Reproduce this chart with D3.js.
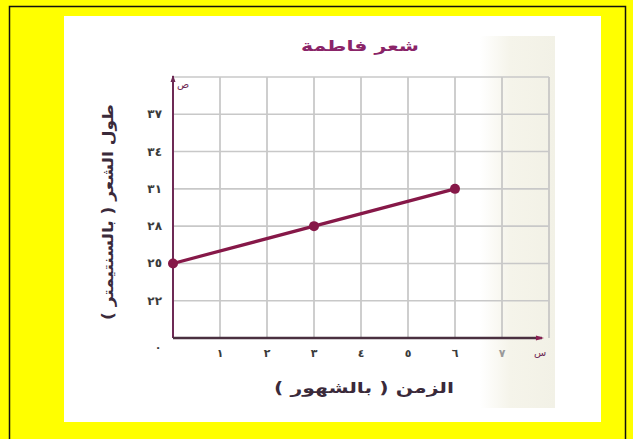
<!DOCTYPE html>
<html><head><meta charset="utf-8">
<script src="https://cdn.jsdelivr.net/npm/d3@7"></script>
<style>html,body{margin:0;padding:0;background:#fff;}svg{display:block;}</style>
</head><body>
<svg id="c" width="633" height="439"></svg>
<script>
const months = [0, 3, 6];
const hairLength = [25, 28, 31];
const xTickValues = [0, 1, 2, 3, 4, 5, 6, 7];
const xTickLabels = ["٠", "١", "٢", "٣", "٤", "٥", "٦", "٧"];
const yTickValues = [22, 25, 28, 31, 34, 37];
const yTickLabels = ["٢٢", "٢٥", "٢٨", "٣١", "٣٤", "٣٧"];
const xGrid = [1, 2, 3, 4, 5, 6, 7, 8];
const yGrid = [22, 25, 28, 31, 34, 37, 40];
const title = "شعر فاطمة";
const xLabel = "الزمن ( بالشهور )";
const yLabel = "طول الشعر ( بالسنتيمتر )";

const svg = d3.select("#c");
const font = "DejaVu Sans, sans-serif";

// frame
svg.append("rect").attr("x", 0).attr("y", 0).attr("width", 633).attr("height", 439).attr("fill", "#ffff00");
svg.append("path").attr("d", "M9.5,439 V6.5 H625.5 V439").attr("fill", "none").attr("stroke", "#111").attr("stroke-width", 1.5);
svg.append("rect").attr("x", 64).attr("y", 16).attr("width", 537).attr("height", 406).attr("fill", "#ffffff");

// faint paper tint on the right
const grad = svg.append("defs").append("linearGradient").attr("id", "g").attr("x1", 0).attr("x2", 1);
grad.append("stop").attr("offset", 0).attr("stop-color", "#f5f4ea").attr("stop-opacity", 0);
grad.append("stop").attr("offset", 0.4).attr("stop-color", "#f5f4ea");
grad.append("stop").attr("offset", 1).attr("stop-color", "#f2f1e6");
svg.append("rect").attr("x", 480).attr("y", 36).attr("width", 75).attr("height", 372).attr("fill", "url(#g)");

const x = d3.scaleLinear().domain([0, 8]).range([173, 549]);
const y = d3.scaleLinear().domain([19, 40]).range([338, 77]);

// grid
const g = svg.append("g");
g.selectAll("line.v").data(xGrid).join("line")
  .attr("x1", d => x(d)).attr("x2", d => x(d)).attr("y1", y(40)).attr("y2", y(19))
  .attr("stroke", "#c2c2c2").attr("stroke-width", 1.6);
g.selectAll("line.h").data(yGrid).join("line")
  .attr("x1", x(0)).attr("x2", x(8)).attr("y1", d => y(d)).attr("y2", d => y(d))
  .attr("stroke", "#c8c8c8").attr("stroke-width", 1.6);

// axes
const axisColor = "#6e2a55";
svg.append("line").attr("x1", x(0)).attr("x2", x(0)).attr("y1", y(19)).attr("y2", y(40) - 1)
  .attr("stroke", axisColor).attr("stroke-width", 2);
svg.append("line").attr("x1", x(0)).attr("x2", x(7.85)).attr("y1", y(19)).attr("y2", y(19))
  .attr("stroke", "#4a3040").attr("stroke-width", 2.4);
svg.append("path").attr("d", `M${x(0)-2.5},${y(40)+5} L${x(0)},${y(40)-2} L${x(0)+2.5},${y(40)+5}Z`).attr("fill", axisColor);
svg.append("path").attr("d", `M${x(7.85)-6},${y(19)-2.5} L${x(7.85)+2},${y(19)} L${x(7.85)-6},${y(19)+2.5}Z`).attr("fill", "#8a1f52");

// tick labels
svg.selectAll("text.yt").data(yTickValues).join("text")
  .attr("x", 162).attr("y", d => y(d) + 4).attr("text-anchor", "end")
  .attr("font-family", font).attr("font-size", 12).attr("font-weight", "bold").attr("fill", "#3a3a3a")
  .text((d, i) => yTickLabels[i]);
svg.selectAll("text.xt").data(xTickValues).join("text")
  .attr("x", d => d === 0 ? x(0) - 15 : x(d)).attr("y", d => d === 0 ? 351 : 357).attr("text-anchor", "middle")
  .attr("font-family", font).attr("font-size", 11).attr("font-weight", "bold")
  .attr("fill", d => d === 7 ? "#9a9a9a" : "#3a3a3a")
  .text((d, i) => xTickLabels[i]);

// axis symbols
svg.append("text").attr("x", 177).attr("y", 88).attr("font-family", font).attr("font-size", 10)
  .attr("fill", "#6e2a55").text("ص");
svg.append("text").attr("x", 540).attr("y", 356).attr("text-anchor", "middle").attr("font-family", font).attr("font-size", 10)
  .attr("fill", "#6e2a55").text("س");

// title and labels
svg.append("text").attr("x", 360).attr("y", 51).attr("text-anchor", "middle")
  .attr("font-family", font).attr("font-size", 15).attr("font-weight", "bold").attr("fill", "#8a2468")
  .attr("textLength", 118).attr("lengthAdjust", "spacingAndGlyphs").text(title);
svg.append("text").attr("x", 364).attr("y", 393).attr("text-anchor", "middle")
  .attr("font-family", font).attr("font-size", 15).attr("font-weight", "bold").attr("fill", "#3a2a3a")
  .attr("textLength", 180).attr("lengthAdjust", "spacingAndGlyphs").text(xLabel);
svg.append("text").attr("transform", "translate(113,212) rotate(-90)").attr("text-anchor", "middle")
  .attr("font-family", font).attr("font-size", 15).attr("font-weight", "bold").attr("fill", "#3a2a3a")
  .attr("textLength", 216).attr("lengthAdjust", "spacingAndGlyphs").text(yLabel);

// data line
const lineColor = "#861848";
svg.append("path").datum(months.map((m, i) => [m, hairLength[i]]))
  .attr("d", d3.line().x(d => x(d[0])).y(d => y(d[1])))
  .attr("fill", "none").attr("stroke", lineColor).attr("stroke-width", 3.2);
svg.selectAll("circle.p").data(months).join("circle")
  .attr("cx", d => x(d)).attr("cy", (d, i) => y(hairLength[i])).attr("r", 5)
  .attr("fill", lineColor);
</script>
</body></html>
